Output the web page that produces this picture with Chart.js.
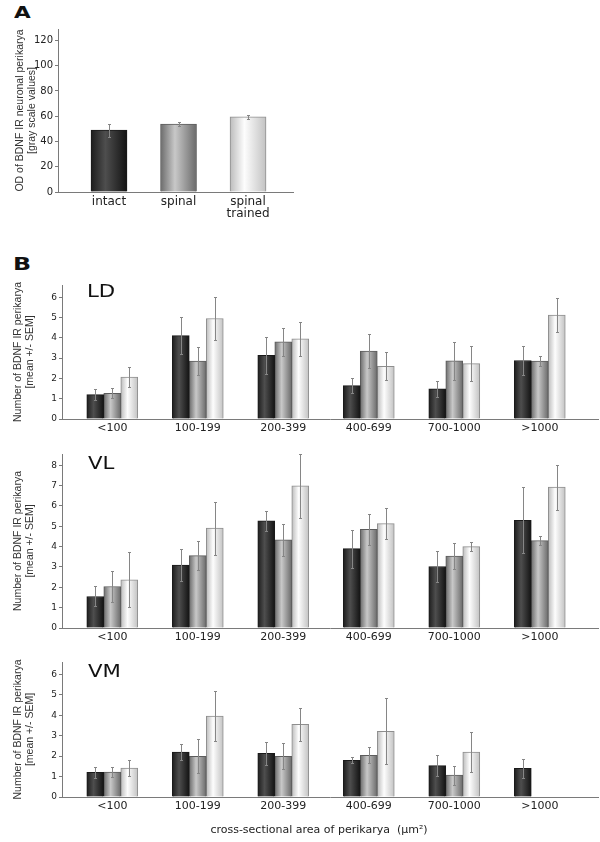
<!DOCTYPE html>
<html><head><meta charset="utf-8">
<script src="https://cdn.jsdelivr.net/npm/chart.js@4.4.1/dist/chart.umd.min.js"></script>
<style>
body{margin:0;width:600px;height:842px;background:#fff;position:relative;overflow:hidden;font-family:"DejaVu Sans",sans-serif;}
canvas{position:absolute;left:0;}
.lbl{position:absolute;line-height:1;color:#111;transform-origin:0 0;white-space:pre;}
</style></head><body>
<div class="lbl" style="left:14px;top:5px;font-weight:bold;font-size:16px;transform:scaleX(1.35)">A</div>
<div class="lbl" style="left:13px;top:255px;font-weight:bold;font-size:18px;transform:scaleX(1.32)">B</div>
<canvas id="cA" width="300" height="230" style="top:0"></canvas>
<canvas id="cLD" width="600" height="172" style="top:270px"></canvas>
<canvas id="cVL" width="600" height="205" style="top:442px"></canvas>
<canvas id="cVM" width="600" height="195" style="top:647px"></canvas>
<div class="lbl" style="left:87px;top:283px;font-size:17px;transform:scaleX(1.25)">LD</div>
<div class="lbl" style="left:88px;top:455px;font-size:17px;transform:scaleX(1.25)">VL</div>
<div class="lbl" style="left:88px;top:663px;font-size:17px;transform:scaleX(1.25)">VM</div>
<div class="lbl" style="left:0;width:638px;text-align:center;top:824px;font-size:11px;color:#222">cross-sectional area of perikarya  (µm²)</div>
<script>
// ---------- data ----------
const groups = ['<100', '100-199', '200-399', '400-699', '700-1000', '>1000'];
const seriesNames = ['intact', 'spinal', 'spinal trained'];

const odLabels = ['intact', 'spinal', ['spinal', 'trained']];
const odValues = [49, 53.8, 59.5];
const odErrors = [5.2, 1.8, 1.8];

const ldIntact  = [1.20, 4.11, 3.13, 1.64, 1.48, 2.88];
const ldSpinal  = [1.27, 2.85, 3.80, 3.34, 2.86, 2.85];
const ldTrained = [2.07, 4.95, 3.95, 2.60, 2.73, 5.12];
const ldIntactErr  = [0.28, 0.90, 0.90, 0.38, 0.40, 0.72];
const ldSpinalErr  = [0.26, 0.70, 0.70, 0.85, 0.95, 0.26];
const ldTrainedErr = [0.50, 1.05, 0.84, 0.70, 0.86, 0.82];

const vlIntact  = [1.55, 3.09, 5.26, 3.90, 3.02, 5.29];
const vlSpinal  = [2.04, 3.56, 4.33, 4.85, 3.54, 4.29];
const vlTrained = [2.37, 4.91, 6.99, 5.13, 4.00, 6.92];
const vlIntactErr  = [0.49, 0.80, 0.47, 0.93, 0.77, 1.62];
const vlSpinalErr  = [0.77, 0.70, 0.77, 0.75, 0.64, 0.23];
const vlTrainedErr = [1.34, 1.30, 1.58, 0.77, 0.21, 1.11];

const vmIntact  = [1.20, 2.20, 2.14, 1.79, 1.53, 1.40];
const vmSpinal  = [1.22, 1.99, 1.99, 2.04, 1.07, null];
const vmTrained = [1.41, 3.96, 3.55, 3.21, 2.19, null];
const vmIntactErr  = [0.26, 0.41, 0.57, 0.15, 0.51, 0.46];
const vmSpinalErr  = [0.23, 0.84, 0.64, 0.39, 0.46, null];
const vmTrainedErr = [0.38, 1.22, 0.79, 1.61, 0.98, null];

// ---------- styles ----------
const shades = [
  ['#1d1d1d', '#4e4e4e', '#131313'],
  ['#6c6c6c', '#c8c8c8', '#6a6a6a'],
  ['#bcbcbc', '#fdfdfd', '#c2c2c2']
];
const borders = ['#1a1a1a', '#5c5c5c', '#8e8e8e'];

Chart.defaults.font.family = '"DejaVu Sans", sans-serif';
Chart.defaults.color = '#222';

const barLook = {
  id: 'barLook',
  beforeDatasetsDraw(chart, args, opts) {
    const ctx = chart.ctx;
    chart.data.datasets.forEach((ds, di) => {
      const meta = chart.getDatasetMeta(di);
      meta.data.forEach((el, i) => {
        const k = opts.byIndex ? i : di;
        const x0 = el.x - el.width / 2, x1 = el.x + el.width / 2;
        if (!isFinite(x0) || !isFinite(x1)) return;
        const g = ctx.createLinearGradient(x0, 0, x1, 0);
        g.addColorStop(0, shades[k][0]);
        g.addColorStop(0.4, shades[k][1]);
        g.addColorStop(1, shades[k][2]);
        el.options = Object.assign({}, el.options, { backgroundColor: g, borderColor: borders[k] });
      });
    });
  }
};

const errBars = {
  id: 'errBars',
  afterDatasetsDraw(chart) {
    const ctx = chart.ctx, ys = chart.scales.y;
    ctx.save();
    ctx.strokeStyle = '#868686';
    ctx.lineWidth = 1;
    chart.data.datasets.forEach((ds, di) => {
      const meta = chart.getDatasetMeta(di);
      meta.data.forEach((el, i) => {
        const v = ds.data[i].y, e = ds.errors[i];
        if (v == null || e == null) return;
        const xp = Math.round(el.x) + 0.5;
        const yt = Math.round(ys.getPixelForValue(v + e)) + 0.5;
        const yb = Math.round(ys.getPixelForValue(v - e)) + 0.5;
        ctx.beginPath();
        ctx.moveTo(xp, yt); ctx.lineTo(xp, yb);
        ctx.moveTo(xp - 1.5, yt); ctx.lineTo(xp + 1.5, yt);
        ctx.moveTo(xp - 1.5, yb); ctx.lineTo(xp + 1.5, yb);
        ctx.stroke();
      });
    });
    ctx.restore();
  }
};

const axisColor = '#7a7a7a';

// ---------- panel A ----------
new Chart(document.getElementById('cA'), {
  type: 'bar',
  data: {
    datasets: [{
      label: 'OD',
      data: odValues.map((v, i) => ({ x: i, y: v })),
      errors: odErrors,
      barThickness: 36,
      borderWidth: 1,
      backgroundColor: '#888'
    }]
  },
  options: {
    responsive: false, animation: false, devicePixelRatio: 1,
    layout: { padding: { top: 29, right: 7, left: 0, bottom: 0 } },
    plugins: { legend: { display: false }, tooltip: { enabled: false }, barLook: { byIndex: true } },
    scales: {
      x: {
        type: 'linear', min: -0.734, max: 2.647, offset: false,
        grid: { display: false, drawTicks: false },
        border: { display: true, color: axisColor, width: 1 },
        ticks: { stepSize: 1, includeBounds: false, autoSkip: false, maxRotation: 0, padding: 4,
          font: { size: 12, lineHeight: 1.0 }, callback: v => (odLabels[v] !== undefined ? odLabels[v] : '') },
        afterFit: s => { s.height = 38; }
      },
      y: {
        min: 0, max: 129,
        grid: { drawOnChartArea: false, drawTicks: true, tickLength: 3, color: axisColor },
        border: { color: axisColor },
        ticks: { stepSize: 20, includeBounds: false, padding: 2, font: { size: 10 } },
        title: { display: true, text: ['OD of BDNF IR neuronal perikarya', '[gray scale values]'],
          color: '#333', font: { family: '"Liberation Sans", Arial, sans-serif', size: 10.5, lineHeight: 1.15 },
          padding: { top: 14, bottom: 0 } },
        afterFit: s => { s.width = 58; }
      }
    }
  },
  plugins: [barLook, errBars]
});

// ---------- panel B ----------
function panelB(id, series, errs, yMax, padTop, xHeight) {
  return new Chart(document.getElementById(id), {
    type: 'bar',
    data: {
      datasets: series.map((vals, k) => ({
        label: seriesNames[k],
        data: vals.map((v, i) => ({ x: i, y: v })),
        errors: errs[k],
        barThickness: 17,
        borderWidth: 1,
        backgroundColor: '#888'
      }))
    },
    options: {
      responsive: false, animation: false, devicePixelRatio: 1,
      layout: { padding: { top: padTop, right: 2, left: 0, bottom: 0 } },
      plugins: { legend: { display: false }, tooltip: { enabled: false }, barLook: { byIndex: false } },
      scales: {
        x: {
          type: 'linear', min: -0.588, max: 5.681, offset: false,
          grid: { display: false, drawTicks: false },
          border: { display: true, color: axisColor, width: 1 },
          ticks: { stepSize: 1, includeBounds: false, autoSkip: false, maxRotation: 0, padding: 3,
            font: { size: 11 }, callback: v => (groups[v] !== undefined ? groups[v] : '') },
          afterFit: s => { s.height = xHeight; }
        },
        y: {
          min: 0, max: yMax,
          grid: { drawOnChartArea: false, drawTicks: true, tickLength: 3, color: axisColor },
          border: { color: axisColor },
          ticks: { stepSize: 1, includeBounds: false, padding: 2, font: { size: 9 } },
          title: { display: true, text: ['Number of BDNF IR perikarya', '[mean +/- SEM]'],
            color: '#333', font: { family: '"Liberation Sans", Arial, sans-serif', size: 10.5, lineHeight: 1.15 },
            padding: { top: 12, bottom: 0 } },
          afterFit: s => { s.width = 62; }
        }
      }
    },
    plugins: [barLook, errBars]
  });
}

panelB('cLD', [ldIntact, ldSpinal, ldTrained], [ldIntactErr, ldSpinalErr, ldTrainedErr], 6.6, 15, 23);
panelB('cVL', [vlIntact, vlSpinal, vlTrained], [vlIntactErr, vlSpinalErr, vlTrainedErr], 8.55, 12, 19);
panelB('cVM', [vmIntact, vmSpinal, vmTrained], [vmIntactErr, vmSpinalErr, vmTrainedErr], 6.6, 15, 45);
</script>
</body></html>
